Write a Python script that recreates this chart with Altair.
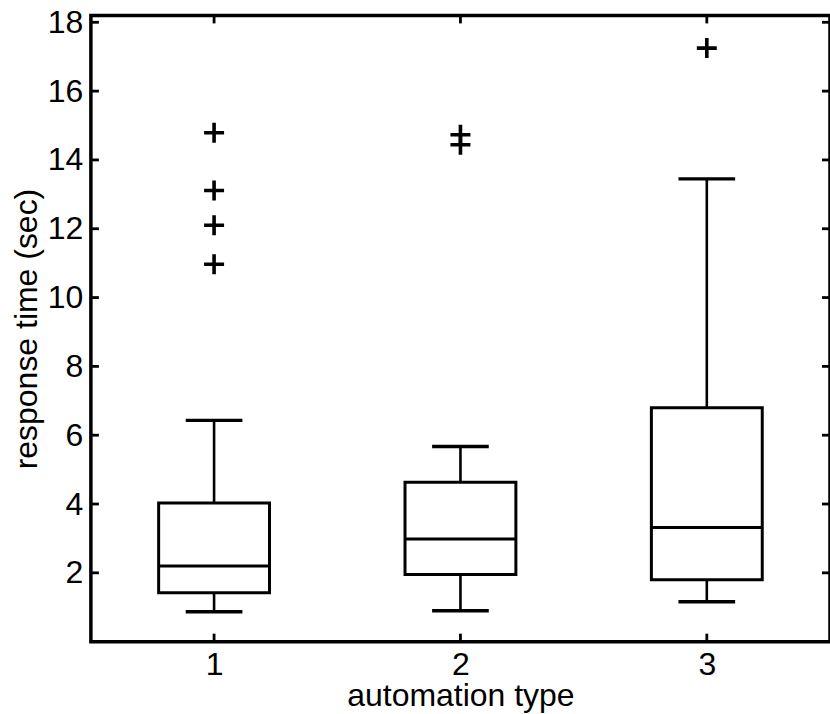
import altair as alt
import pandas as pd

# ---- data ----
groups = [1, 2, 3]
lower_whisker = [0.87, 0.90, 1.16]
q1 = [1.42, 1.95, 1.80]
median = [2.20, 2.98, 3.32]
q3 = [4.03, 4.63, 6.80]
upper_whisker = [6.43, 5.67, 13.45]

outlier_group = [1, 1, 1, 1, 2, 2, 3]
outlier_value = [14.79, 13.11, 12.10, 10.97, 14.73, 14.44, 17.25]

x_ticks = [1, 2, 3]
y_ticks = [2, 4, 6, 8, 10, 12, 14, 16, 18]

# ---- tables ----
boxes = pd.DataFrame({"g": groups, "lw": lower_whisker, "q1": q1,
                      "med": median, "q3": q3, "uw": upper_whisker})
outliers = pd.DataFrame({"g": outlier_group, "v": outlier_value})
xt = pd.DataFrame({"t": x_ticks})
yt = pd.DataFrame({"t": y_ticks})

W, H = 740, 627
FONT = "Liberation Sans"
BOX_HALF = 0.225
CAP_HALF = 0.115

xs = alt.Scale(domain=[0.5, 3.5], nice=False, zero=False)
ys = alt.Scale(domain=[0, 18.2], nice=False, zero=False)
xaxis = alt.Axis(values=x_ticks, format="d", title="automation type")
yaxis = alt.Axis(values=y_ticks, format="d", title="response time (sec)")


def X(f):
    return alt.X(f, type="quantitative", scale=xs, axis=xaxis)


def Y(f):
    return alt.Y(f, type="quantitative", scale=ys, axis=yaxis)


base = alt.Chart(boxes).transform_calculate(
    bl=f"datum.g - {BOX_HALF}", br=f"datum.g + {BOX_HALF}",
    cl=f"datum.g - {CAP_HALF}", cr=f"datum.g + {CAP_HALF}",
)

box = base.mark_rect(fill="white", stroke="black", strokeWidth=3).encode(
    x=X("bl:Q"), x2="br:Q", y=Y("q1:Q"), y2="q3:Q"
)
med = base.mark_rule(color="black", strokeWidth=3).encode(
    x=X("bl:Q"), x2="br:Q", y=Y("med:Q")
)
wh_up = base.mark_rule(color="black", strokeWidth=2.6).encode(
    x=X("g:Q"), y=Y("q3:Q"), y2="uw:Q"
)
wh_lo = base.mark_rule(color="black", strokeWidth=2.6).encode(
    x=X("g:Q"), y=Y("lw:Q"), y2="q1:Q"
)
cap_up = base.mark_rule(color="black", strokeWidth=3.4).encode(
    x=X("cl:Q"), x2="cr:Q", y=Y("uw:Q")
)
cap_lo = base.mark_rule(color="black", strokeWidth=3.4).encode(
    x=X("cl:Q"), x2="cr:Q", y=Y("lw:Q")
)
pts = alt.Chart(outliers).mark_point(
    shape="M-1,0L1,0M0,-1L0,1", size=400, filled=False,
    stroke="black", strokeWidth=3.6, opacity=1
).encode(x=X("g:Q"), y=Y("v:Q"))

TL = 8
left_t = alt.Chart(yt).mark_rule(color="black", strokeWidth=2.8).encode(
    y=Y("t:Q"), x=alt.value(0), x2=alt.value(TL))
right_t = alt.Chart(yt).mark_rule(color="black", strokeWidth=2.8).encode(
    y=Y("t:Q"), x=alt.value(W - TL), x2=alt.value(W))
bot_t = alt.Chart(xt).mark_rule(color="black", strokeWidth=2.8).encode(
    x=X("t:Q"), y=alt.value(H), y2=alt.value(H - TL))
top_t = alt.Chart(xt).mark_rule(color="black", strokeWidth=2.8).encode(
    x=X("t:Q"), y=alt.value(0), y2=alt.value(TL))

chart = alt.layer(
    box, med, wh_up, wh_lo, cap_up, cap_lo, pts, left_t, right_t, bot_t, top_t
).properties(
    width=W, height=H,
    autosize=alt.AutoSizeParams(type="none"),
    padding={"left": 91, "top": 15, "right": 0, "bottom": 72},
    background="white",
).configure_view(
    stroke="black", strokeWidth=3.5
).configure_axis(
    domain=False, ticks=False, grid=False,
    labelFont=FONT, labelFontSize=32, labelColor="black",
    titleFont=FONT, titleFontSize=32, titleColor="black",
    titleFontWeight="normal",
).configure_axisX(
    labelPadding=8, titlePadding=0
).configure_axisY(
    labelPadding=8, titlePadding=4
)

chart.save("out.html", embed_options={"renderer": "svg", "actions": False})
